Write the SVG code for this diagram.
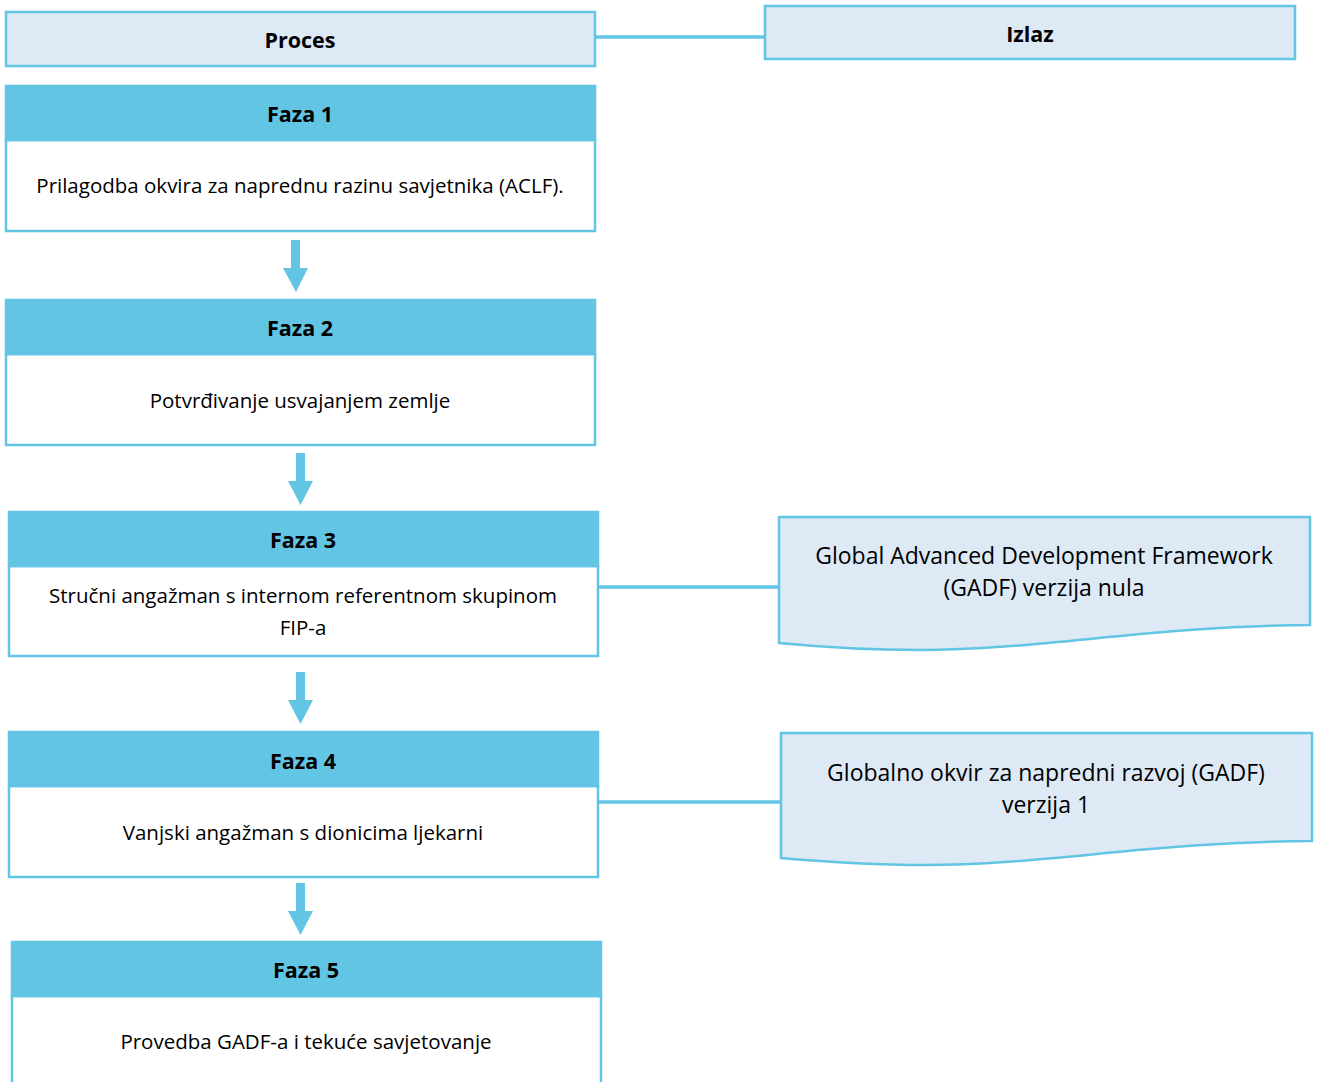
<svg xmlns="http://www.w3.org/2000/svg" width="1319" height="1082" viewBox="0 0 1319 1082">
<style>
.hdr{fill:#dde9f5;stroke:#62c5e3;stroke-width:2.5}
.band{fill:#63c5e4;stroke:#62c5e3;stroke-width:2.5}
.body{fill:#ffffff;stroke:#62c5e3;stroke-width:2.5}
.doc{fill:#dde9f5;stroke:#62c5e3;stroke-width:2.5}
.line{stroke:#62c5e3;stroke-width:3.5;fill:none}
.arr{fill:#62c5e3}
text{font-family:"Open Sans","Noto Sans","Liberation Sans",sans-serif;fill:#000;text-anchor:middle}
.b{font-weight:bold;font-size:21.5px}
.t{font-size:20.5px}
.d{font-size:23px}
</style>
<g id="connectors">
<line class="line" x1="595" y1="37" x2="765" y2="37"/>
<line class="line" x1="598" y1="587" x2="778" y2="587"/>
<line class="line" x1="598" y1="802" x2="780" y2="802"/>
<path class="arr" d="M291 240 H300 V268 H308 L296 292 L283 268 H291 Z"/>
<path class="arr" d="M296 453 H305 V481 H313 L300.5 505 L288 481 H296 Z"/>
<path class="arr" d="M296 672 H305 V700 H313 L300.5 724 L288 700 H296 Z"/>
<path class="arr" d="M296 883 H305 V911 H313 L300.5 935 L288 911 H296 Z"/>
</g>
<g id="proces">
<rect class="hdr" x="6" y="12" width="589" height="54"/>
<text class="b" x="300" y="48">Proces</text>
</g>
<g id="izlaz">
<rect class="hdr" x="765" y="6" width="530" height="53"/>
<text class="b" x="1030" y="42">Izlaz</text>
</g>
<g id="faza1">
<rect class="body" x="6" y="140" width="589" height="91"/>
<rect class="band" x="6" y="86" width="589" height="54"/>
<text class="b" x="300" y="122">Faza 1</text>
<text class="t" x="300" y="193">Prilagodba okvira za naprednu razinu savjetnika (ACLF).</text>
</g>
<g id="faza2">
<rect class="body" x="6" y="354" width="589" height="91"/>
<rect class="band" x="6" y="300" width="589" height="54"/>
<text class="b" x="300" y="336">Faza 2</text>
<text class="t" x="300" y="408">Potvrđivanje usvajanjem zemlje</text>
</g>
<g id="faza3">
<rect class="body" x="9" y="566" width="589" height="90"/>
<rect class="band" x="9" y="512" width="589" height="54"/>
<text class="b" x="303" y="548">Faza 3</text>
<text class="t" x="303" y="603">Stručni angažman s internom referentnom skupinom</text>
<text class="t" x="303" y="635">FIP-a</text>
</g>
<g id="faza4">
<rect class="body" x="9" y="786" width="589" height="91"/>
<rect class="band" x="9" y="732" width="589" height="54"/>
<text class="b" x="303" y="769">Faza 4</text>
<text class="t" x="303" y="840">Vanjski angažman s dionicima ljekarni</text>
</g>
<g id="faza5">
<rect class="body" x="12" y="996" width="589" height="100"/>
<rect class="band" x="12" y="942" width="589" height="54"/>
<text class="b" x="306" y="978">Faza 5</text>
<text class="t" x="306" y="1049">Provedba GADF-a i tekuće savjetovanje</text>
</g>
<g id="izlaz1">
<path class="doc" d="M779 517 H1310 V625 C1150 626 1040 650 920 650 C860 650 810 646 779 643 Z"/>
<text class="d" x="1044" y="564">Global Advanced Development Framework</text>
<text class="d" x="1044" y="596">(GADF) verzija nula</text>
</g>
<g id="izlaz2">
<path class="doc" d="M781 733 H1312 V841 C1150 842 1045 865 925 865 C865 865 815 861 781 858 Z"/>
<text class="d" x="1046" y="781">Globalno okvir za napredni razvoj (GADF)</text>
<text class="d" x="1046" y="813">verzija 1</text>
</g>
</svg>
